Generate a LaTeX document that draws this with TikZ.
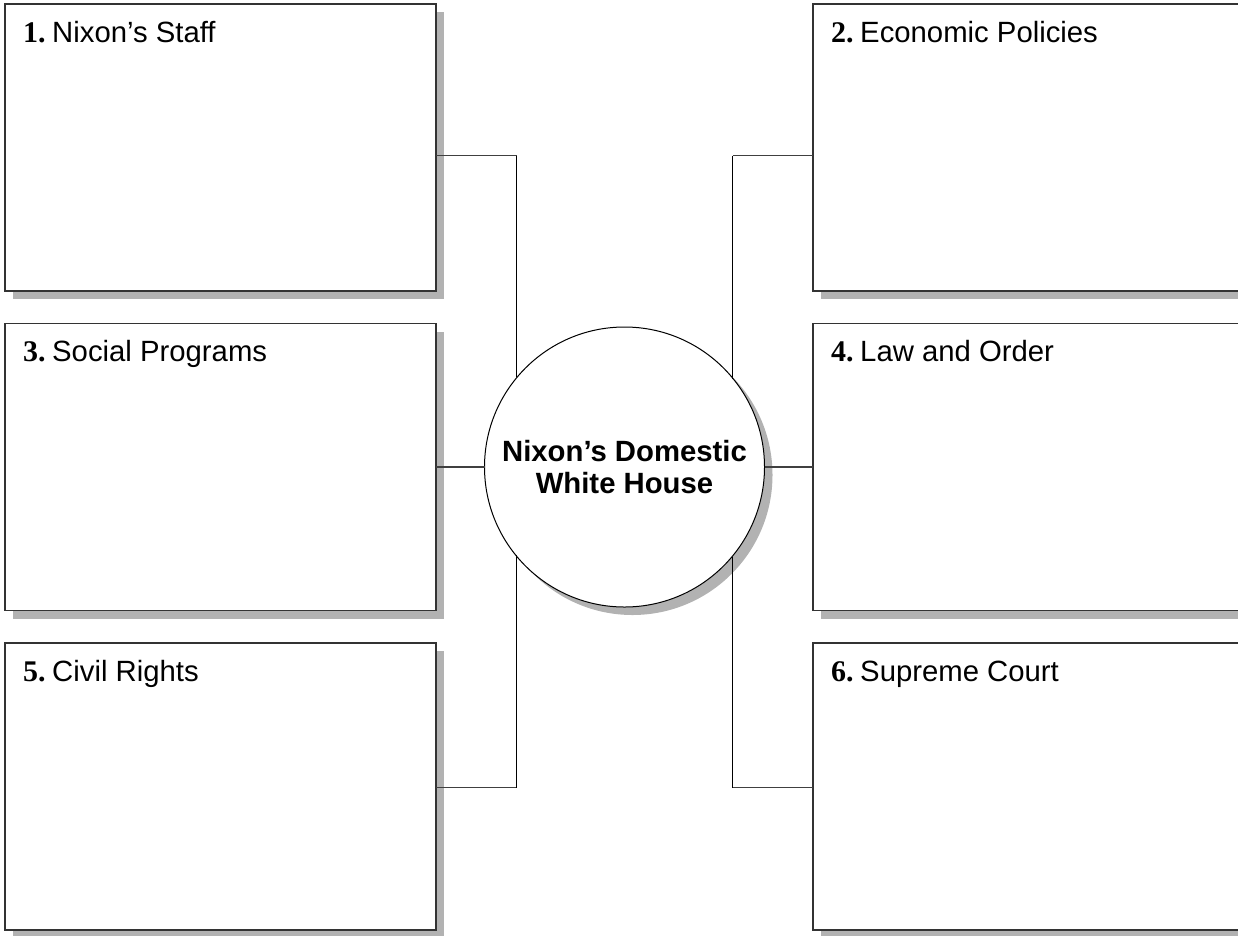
\documentclass[tikz,border=0pt]{standalone}
\usepackage{fontspec}
\setmainfont{Liberation Sans}
\newfontfamily\numfont{Liberation Serif}
\usetikzlibrary{shadows}
\begin{document}
\begin{tikzpicture}[x=1pt,y=-1pt,
  shad/.style={drop shadow={shadow xshift=8pt, shadow yshift=-8pt, fill=black!30, opacity=1}},
  box/.style={shad, rectangle, draw=black!80, line width=1.4pt, fill=white, anchor=north west,
    minimum width=#1, minimum height=287pt, inner sep=0pt, outer sep=0pt},
  box/.default=431pt,
  lbl/.style={anchor=base west, inner sep=0pt, font=\fontsize{29.3}{33}\selectfont},
  hub/.style={shad, circle, draw=black, line width=1pt, fill=white, minimum size=280pt,
    inner sep=0pt, outer sep=0pt, align=center, font=\bfseries\fontsize{29.3}{32}\selectfont},
  hlink/.style={draw=black!75, line width=1.3pt},
  vlink/.style={draw=black, line width=1pt}
]
\useasboundingbox (0,0) rectangle (1238,935);
\clip (0,0) rectangle (1238,935);
\newcommand{\num}[1]{{\numfont\bfseries\fontsize{30}{32}\selectfont #1}\hspace{6.5pt}}

% boxes
\node[box] (b1) at (5,4) {};
\node[box] (b3) at (5,323.5) {};
\node[box] (b5) at (5,643) {};
\node[box=460pt] (b2) at (813,4) {};
\node[box=460pt] (b4) at (813,323.5) {};
\node[box=460pt] (b6) at (813,643) {};

% labels
\node[lbl] (l1) at ([xshift=18pt,yshift=-38pt]b1.north west) {\num{1.}Nixon’s Staff};
\node[lbl] (l3) at ([xshift=18pt,yshift=-38pt]b3.north west) {\num{3.}Social Programs};
\node[lbl] (l5) at ([xshift=18pt,yshift=-38pt]b5.north west) {\num{5.}Civil Rights};
\node[lbl] (l2) at ([xshift=18pt,yshift=-38pt]b2.north west) {\num{2.}Economic Policies};
\node[lbl] (l4) at ([xshift=18pt,yshift=-38pt]b4.north west) {\num{4.}Law and Order};
\node[lbl] (l6) at ([xshift=18pt,yshift=-38pt]b6.north west) {\num{6.}Supreme Court};

% hub
\node[hub] (c) at (624.5,467) {Nixon’s Domestic\\White House};

% junctions
\coordinate (jl1) at (516.7,155.7);
\coordinate (jl2) at (516.7,787.7);
\coordinate (jr1) at (732.7,155.7);
\coordinate (jr2) at (732.7,787.7);

% connectors
\draw[hlink] (b1.east |- jl1) -- (jl1);
\draw[vlink] (jl1) -- (jl1 |- c.140.35);
\draw[hlink] (b5.east |- jl2) -- (jl2);
\draw[vlink] (jl2) -- (jl2 |- c.219.65);
\draw[hlink] (b3.east) -- (c.west);
\draw[hlink] (b2.west |- jr1) -- (jr1);
\draw[vlink] (jr1) -- (jr1 |- c.39.4);
\draw[hlink] (b6.west |- jr2) -- (jr2);
\draw[vlink] (jr2) -- (jr2 |- c.320.6);
\draw[hlink] (b4.west) -- (c.east);
\end{tikzpicture}
\end{document}
